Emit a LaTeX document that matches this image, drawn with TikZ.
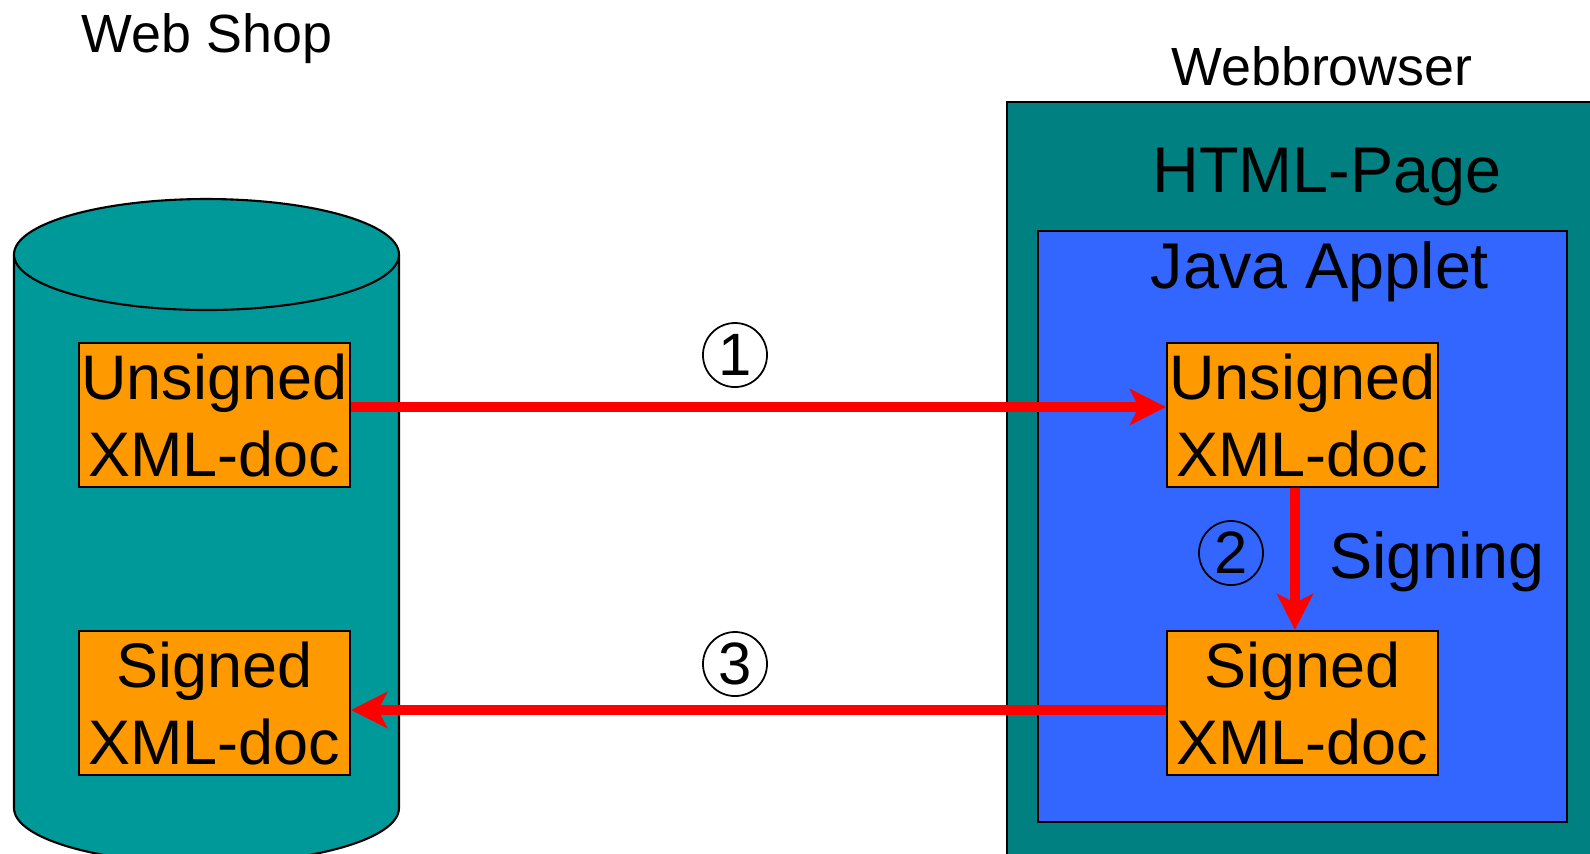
\documentclass[tikz,border=0pt]{standalone}
\usepackage{fontspec}
\setmainfont{Liberation Sans}
\usetikzlibrary{arrows.meta}
\definecolor{shopteal}{HTML}{009999}
\definecolor{pageteal}{HTML}{008080}
\definecolor{appletblue}{HTML}{3366FF}
\definecolor{docorange}{HTML}{FF9900}
\begin{document}
\begin{tikzpicture}[x=0.01cm,y=-0.01cm,
    doc/.style={draw,line width=0.6pt,fill=docorange,align=center,inner sep=0pt,
      minimum width=2.71cm,minimum height=1.44cm,font=\fontsize{17.9}{21.9}\selectfont},
    num/.style={circle,draw,line width=0.5pt,inner sep=0pt,minimum size=0.64cm,
      font=\fontsize{17}{17}\selectfont},
    title/.style={anchor=base,inner sep=0pt,font=\fontsize{15.3}{15.3}\selectfont},
    big/.style={font=\fontsize{18.4}{18.4}\selectfont},
    flow/.style={red,line width=2.9pt,-{Stealth[length=0.36cm,width=0.36cm,inset=0.09cm]}}]
  \useasboundingbox (0,0) rectangle (1590,853);
  % web shop
  \draw[fill=shopteal,line width=0.6pt] (14,254.5) -- (14,808)
    arc[start angle=180,end angle=0,x radius=192.5,y radius=55.5] -- (399,254.5);
  \draw[fill=shopteal,line width=0.6pt] (206.5,254.5) ellipse[x radius=192.5,y radius=55.5];
  % browser
  \draw[fill=pageteal,line width=0.6pt] (1007,102) rectangle (1620,880);
  \draw[fill=appletblue,line width=0.6pt] (1038,231) rectangle (1567,822);
  \draw
    (207,52) node[title] (shop){Web Shop}
    (1322,85) node[title] (browser){Webbrowser}
    (1327,192) node[title,big] (page){HTML-Page}
    (1320,288) node[title,big] (applet){Java Applet}
    (1437,578) node[title,big] (signing){Signing}
    (214.5,415) node[doc] (unsignedL){Unsigned\\XML-doc}
    (214.5,703) node[doc] (signedL){Signed\\XML-doc}
    (1302.5,415) node[doc] (unsignedR){Unsigned\\XML-doc}
    (1302.5,703) node[doc] (signedR){Signed\\XML-doc}
    (735,355) node[num] (one){1}
    (1231,553) node[num] (two){2}
    (735,664) node[num] (three){3};
  \begin{scope}[flow]
    \draw ([yshift=0.08cm]unsignedL.east) to ([yshift=0.08cm]unsignedR.west);
    \draw ([xshift=-0.075cm]unsignedR.south) to ([xshift=-0.075cm]signedR.north);
    \draw ([yshift=-0.07cm]signedR.west) to ([yshift=-0.07cm]signedL.east);
  \end{scope}
\end{tikzpicture}
\end{document}
